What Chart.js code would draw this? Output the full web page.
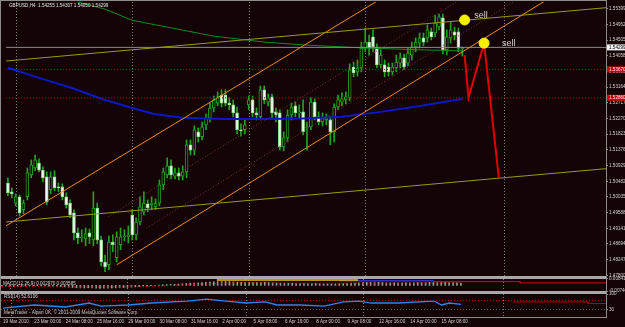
<!DOCTYPE html>
<html>
<head>
<meta charset="utf-8">
<script src="https://cdn.jsdelivr.net/npm/chart.js@4.4.1/dist/chart.umd.min.js"></script>
<style>
  html, body { margin: 0; padding: 0; background: #140405; }
  #wrap { position: relative; width: 625px; height: 327px; overflow: hidden; background: #140405; }
  canvas { position: absolute; left: 0; }
  .sep { position: absolute; left: 0; width: 607px; background: #a8a8a8; }
  #frame { position: absolute; left: 0; top: 0; width: 605px; height: 316px; border: 1px solid #8c8c8c; pointer-events: none; }
</style>
</head>
<body>
<div id="wrap">
  <canvas id="main" width="625" height="286" style="top:-4px"></canvas>
  <canvas id="macd" width="625" height="24" style="top:273px"></canvas>
  <canvas id="rsi" width="625" height="39" style="top:288px"></canvas>
  <div class="sep" style="top:276px;height:3px"></div>
  <div class="sep" style="top:291px;height:3px"></div>
  <div id="frame"></div>
</div>
<script>
// GBPUSD H4, 19 Mar 2010 .. 16 Apr 2010, one entry per bar
const opens = [1.5043,1.5018,1.4986,1.5004,1.4967,1.5004,1.5066,1.5086,1.5100,1.5080,
  1.5061,1.5024,1.5061,1.5032,1.5032,1.5004,1.4986,1.4958,1.4901,1.4887,
  1.4884,1.4901,1.4881,1.4972,1.4881,1.4818,1.4810,1.4875,1.4830,1.4867,
  1.4890,1.4890,1.4952,1.4895,1.4932,1.4961,1.4984,1.4981,1.4975,1.4986,
  1.5038,1.5066,1.5092,1.5063,1.5072,1.5063,1.5075,1.5152,1.5137,1.5189,
  1.5175,1.5209,1.5229,1.5257,1.5271,1.5294,1.5294,1.5271,1.5266,1.5243,
  1.5195,1.5195,1.5266,1.5280,1.5243,1.5232,1.5309,1.5274,1.5289,1.5246,
  1.5243,1.5146,1.5172,1.5237,1.5263,1.5243,1.5246,1.5200,1.5203,1.5274,
  1.5232,1.5217,1.5223,1.5223,1.5189,1.5260,1.5274,1.5280,1.5286,1.5374,
  1.5360,1.5371,1.5428,1.5445,1.5460,1.5431,1.5380,1.5380,1.5374,1.5360,
  1.5371,1.5385,1.5400,1.5385,1.5408,1.5431,1.5442,1.5457,1.5457,1.5474,
  1.5471,1.5488,1.5514,1.5423,1.5457,1.5474,1.5474,1.5426];
const highs = [1.5058,1.5029,1.5012,1.5009,1.4995,1.5086,1.5109,1.5123,1.5112,1.5089,
  1.5075,1.5075,1.5078,1.5043,1.5041,1.5015,1.4995,1.4967,1.4915,1.4910,
  1.4915,1.4912,1.5018,1.4986,1.4892,1.4838,1.4892,1.4895,1.4904,1.4915,
  1.4910,1.4921,1.4967,1.4944,1.5004,1.5018,1.4995,1.5004,1.4998,1.5052,
  1.5086,1.5115,1.5109,1.5086,1.5086,1.5092,1.5166,1.5166,1.5206,1.5200,
  1.5217,1.5240,1.5271,1.5291,1.5303,1.5309,1.5309,1.5286,1.5280,1.5260,
  1.5212,1.5223,1.5291,1.5291,1.5257,1.5320,1.5320,1.5297,1.5297,1.5257,
  1.5252,1.5189,1.5252,1.5271,1.5274,1.5266,1.5280,1.5217,1.5286,1.5283,
  1.5246,1.5243,1.5240,1.5234,1.5269,1.5294,1.5300,1.5303,1.5383,1.5388,
  1.5394,1.5445,1.5485,1.5465,1.5480,1.5440,1.5423,1.5394,1.5385,1.5385,
  1.5408,1.5414,1.5411,1.5428,1.5445,1.5457,1.5471,1.5471,1.5494,1.5485,
  1.5522,1.5525,1.5525,1.5480,1.5502,1.5488,1.5485,1.5431];
const lows = [1.5006,1.5001,1.4978,1.4949,1.4955,1.4995,1.5058,1.5078,1.5075,1.5046,
  1.4981,1.5012,1.5021,1.5018,1.4995,1.4972,1.4944,1.4881,1.4870,1.4875,
  1.4864,1.4870,1.4864,1.4870,1.4807,1.4790,1.4796,1.4847,1.4818,1.4853,
  1.4878,1.4872,1.4881,1.4881,1.4924,1.4952,1.4961,1.4967,1.4967,1.4978,
  1.5024,1.5058,1.5055,1.5055,1.5052,1.5052,1.5058,1.5123,1.5123,1.5160,
  1.5166,1.5195,1.5217,1.5246,1.5263,1.5260,1.5263,1.5252,1.5232,1.5183,
  1.5177,1.5183,1.5252,1.5232,1.5223,1.5223,1.5269,1.5263,1.5229,1.5217,
  1.5137,1.5135,1.5160,1.5223,1.5232,1.5229,1.5180,1.5137,1.5195,1.5223,
  1.5209,1.5206,1.5209,1.5152,1.5160,1.5252,1.5263,1.5269,1.5277,1.5346,
  1.5348,1.5360,1.5417,1.5408,1.5417,1.5371,1.5371,1.5346,1.5348,1.5351,
  1.5360,1.5371,1.5366,1.5377,1.5394,1.5417,1.5428,1.5434,1.5445,1.5451,
  1.5460,1.5480,1.5411,1.5408,1.5442,1.5451,1.5417,1.5405];
const closes = [1.5015,1.5012,1.5004,1.4958,1.4986,1.5072,1.5095,1.5109,1.5080,1.5058,
  1.4989,1.5061,1.5029,1.5029,1.5004,1.4981,1.4952,1.4901,1.4887,1.4890,
  1.4898,1.4890,1.4972,1.4881,1.4818,1.4804,1.4875,1.4867,1.4890,1.4890,
  1.4892,1.4895,1.4895,1.4932,1.4975,1.4986,1.4972,1.4986,1.4986,1.5038,
  1.5075,1.5092,1.5066,1.5072,1.5063,1.5075,1.5152,1.5137,1.5195,1.5175,
  1.5203,1.5229,1.5257,1.5280,1.5289,1.5271,1.5271,1.5266,1.5243,1.5195,
  1.5192,1.5209,1.5280,1.5243,1.5237,1.5309,1.5280,1.5286,1.5243,1.5237,
  1.5146,1.5172,1.5237,1.5260,1.5243,1.5246,1.5189,1.5203,1.5274,1.5232,
  1.5217,1.5229,1.5229,1.5189,1.5260,1.5280,1.5283,1.5289,1.5366,1.5357,
  1.5371,1.5428,1.5445,1.5428,1.5431,1.5380,1.5408,1.5360,1.5360,1.5374,
  1.5388,1.5400,1.5374,1.5414,1.5431,1.5445,1.5457,1.5445,1.5480,1.5460,
  1.5499,1.5517,1.5423,1.5460,1.5480,1.5465,1.5428,1.5430];

// moving averages, read at a few bars
const maBlueBars = [0, 8, 16.5, 25, 32, 37.7, 45, 55.5, 65.6, 75.8, 86, 96, 106, 117];
const maBlueVals = [1.5372,1.5343,1.5314,1.5280,1.5257,1.5240,1.5229,1.5226,1.5226,1.5227,1.5232,1.5246,1.5263,1.5283];
const maGreenBars = [8, 16, 25, 32, 53, 66, 76, 92, 106, 117];
const maGreenVals = [1.5600,1.5565,1.5539,1.5507,1.5462,1.5445,1.5437,1.5428,1.5423,1.5420];

// drawn objects (bar index, price)
const oliveUpperBars = [-0.5, 154], oliveUpperPrices = [1.5391, 1.5543];
const oliveLowerBars = [-0.5, 154], oliveLowerPrices = [1.4932, 1.5084];
const orangeUpperBars = [-0.5, 100], orangeUpperPrices = [1.4921, 1.5595];
const orangeLowerBars = [28, 140], orangeLowerPrices = [1.4810, 1.5574];
const midUpperBars = [25.75, 120], midUpperPrices = [1.4947, 1.5590];
const midLowerBars = [35.7, 135], midLowerPrices = [1.4915, 1.5592];
const targetBars = [117.6, 118.6, 122.6, 126.4], targetPrices = [1.5408, 1.5286, 1.5442, 1.5058];
const sellBars = [117.6, 122.6], sellPrices = [1.5508, 1.5442];
const sellTextBars = [120.1, 127.2], sellTextPrices = [1.5522, 1.5440];
const redLevels = [1.5367, 1.5286];
const bidPrice = 1.54299;
const sepBars = [2, 32, 62, 92, 127.7];

// axes
const priceTicks = [1.47800,1.48247,1.48694,1.49141,1.49588,1.50035,1.50482,1.50929,1.51376,
  1.51823,1.52270,1.52717,1.53164,1.53611,1.54058,1.54505,1.54952,1.55399];
const timeBars = [0, 8, 16, 24, 32, 40, 48, 56, 64, 72, 80, 88, 96, 104, 112];
const timeLabels = ['19 Mar 2010','23 Mar 00:00','24 Mar 08:00','25 Mar 16:00','29 Mar 00:00',
  '30 Mar 08:00','31 Mar 16:00','2 Apr 00:00','5 Apr 08:00','6 Apr 16:00','8 Apr 00:00',
  '9 Apr 08:00','12 Apr 16:00','14 Apr 00:00','15 Apr 08:00'];

// MACD window
const macdHist = [-0.0010,-0.0012,-0.0013,-0.0015,-0.0016,-0.0012,-0.0008,-0.0005,-0.0004,-0.0004,
  -0.0007,-0.0008,-0.0009,-0.0010,-0.0012,-0.0015,-0.0019,-0.0024,-0.0028,-0.0031,
  -0.0033,-0.0034,-0.0032,-0.0033,-0.0036,-0.0039,-0.0038,-0.0037,-0.0035,-0.0033,
  -0.0031,-0.0029,-0.0026,-0.0023,-0.0019,-0.0015,-0.0011,-0.0008,-0.0005,-0.0001,
  0.0004,0.0008,0.0011,0.0013,0.0015,0.0017,0.0022,0.0025,0.0029,0.0031,
  0.0034,0.0037,0.0041,0.0045,0.0048,0.0050,0.0051,0.0051,0.0050,0.0046,
  0.0042,0.0040,0.0041,0.0040,0.0038,0.0040,0.0041,0.0041,0.0039,0.0037,
  0.0031,0.0028,0.0028,0.0029,0.0029,0.0028,0.0025,0.0023,0.0024,0.0024,
  0.0023,0.0022,0.0021,0.0019,0.0020,0.0021,0.0022,0.0023,0.0027,0.0029,
  0.0031,0.0035,0.0038,0.0040,0.0042,0.0041,0.0040,0.0038,0.0036,0.0035,
  0.0034,0.0034,0.0033,0.0033,0.0034,0.0035,0.0036,0.0037,0.0039,0.0040,
  0.0042,0.0044,0.0040,0.0039,0.0039,0.0038,0.0034,0.0030];
const macdSignalBars = [0, 20, 35, 50, 60, 80, 100, 117];
const macdSignalVals = [-0.0012,-0.0022,-0.0020,0.0015,0.0035,0.0028,0.0032,0.0036];
const macdYellowBars = [54.8, 90.8], macdYellowVals = [0.0071, 0.0071];
const macdBlueBars = [86, 110], macdBlueVals = [0.0062, 0.0062];
const macdRedBars = [109.9, 132.1, 132.1, 154], macdRedVals = [0.0049, 0.0049, 0.0032, 0.0032];
const macdTicks = [0.00841, 0, -0.00740];

// RSI window
const rsiBars = [0, 8, 16, 22, 25, 32, 38, 47, 52, 57, 62, 67, 70, 76, 82, 87, 91, 94, 101, 110, 112, 114, 117];
const rsiVals = [36, 50, 41, 59, 45, 50, 59, 68, 77, 68, 59, 64, 50, 50, 45, 64, 68, 59, 59, 68, 50, 59, 52.6];
const rsiRedBars = [130.3, 149.2, 149.4, 154], rsiRedVals = [63.6, 63.6, 56.8, 56.8];
const rsiTicks = [100, 70, 30, 0];

const X_MIN = -0.5, X_MAX = 154;
const BG = '#140405';
const TXT = '#d2d2d2';
const FONT = 'Liberation Sans';
const FS = 4.6;

Chart.defaults.font.family = FONT;
Chart.defaults.font.size = FS;
Chart.defaults.color = TXT;

const pts = (xs, ys) => xs.map((x, i) => ({ x, y: ys[i] }));
const line = (data, color, extra) => Object.assign({
  type: 'line', data, borderColor: color, borderWidth: 1, pointRadius: 0,
  fill: false, tension: 0, order: 5
}, extra || {});
const flat = (v) => [{ x: X_MIN, y: v }, { x: X_MAX, y: v }];

const sepPlugin = {
  id: 'sep',
  beforeDatasetsDraw(chart) {
    const { ctx, chartArea: a, scales: { x } } = chart;
    ctx.save();
    ctx.strokeStyle = '#808080';
    ctx.lineWidth = 1;
    ctx.setLineDash([1, 2]);
    sepBars.forEach(b => {
      const px = Math.round(x.getPixelForValue(b)) + 0.5;
      ctx.beginPath();
      ctx.moveTo(px, a.top);
      ctx.lineTo(px, a.bottom);
      ctx.stroke();
    });
    ctx.restore();
  }
};

const yAxisBase = (extra) => Object.assign({
  position: 'right',
  afterFit: s => { s.width = 19; },
  grid: { drawOnChartArea: false, color: '#8c8c8c', tickLength: 2 },
  border: { display: false },
  ticks: { padding: 1, color: TXT, font: { size: FS } }
}, extra);

const baseOpts = (padBottom) => ({
  responsive: false,
  animation: false,
  events: [],
  layout: { padding: { top: 6, bottom: padBottom, left: 0, right: 0 } },
  plugins: { legend: { display: false }, tooltip: { enabled: false } }
});

// ---------- main price window ----------
const bull = opens.map((o, i) => closes[i] >= o);
const mainText = {
  id: 'mainText',
  afterDraw(chart) {
    const { ctx, chartArea: a, scales: { x, y } } = chart;
    ctx.save();
    ctx.font = FS + 'px ' + FONT;
    ctx.fillStyle = '#e6e6e6';
    ctx.textBaseline = 'middle';
    ctx.fillText('GBPUSD,H4  1.54255 1.54307 1.54050 1.54299', a.left + 3, a.top + 4);
    ctx.font = '9px ' + FONT;
    ctx.fillStyle = '#d8d8d8';
    sellTextBars.forEach((b, i) => {
      ctx.fillText('sell', x.getPixelForValue(b), y.getPixelForValue(sellTextPrices[i]));
    });
    // price boxes on the axis
    const boxes = [[bidPrice, '#f2f2f2', '#000000'], [redLevels[0], '#d00000', '#f0f0f0'], [redLevels[1], '#d00000', '#f0f0f0']];
    ctx.font = FS + 'px ' + FONT;
    boxes.forEach(([p, bg, fg]) => {
      const py = y.getPixelForValue(p);
      ctx.fillStyle = bg;
      ctx.fillRect(a.right + 1, py - 3, 19, 6);
      ctx.fillStyle = fg;
      ctx.fillText(p.toFixed(5), a.right + 3, py);
    });
    ctx.restore();
  }
};

new Chart(document.getElementById('main'), {
  type: 'line',
  data: {
    datasets: [
      { type: 'scatter', data: pts(sellBars, sellPrices), pointRadius: 5, pointBackgroundColor: '#f4f000',
        pointBorderColor: '#f4f000', showLine: false, order: 1 },
      line(pts(targetBars, targetPrices), '#e00000', { borderWidth: 2, order: 2 }),
      line(pts(oliveUpperBars, oliveUpperPrices), '#9a9a18', { order: 3 }),
      line(pts(oliveLowerBars, oliveLowerPrices), '#9a9a18', { order: 3 }),
      line(pts(orangeUpperBars, orangeUpperPrices), '#f08a1c', { order: 3 }),
      line(pts(orangeLowerBars, orangeLowerPrices), '#f08a1c', { order: 3 }),
      line(pts(midUpperBars, midUpperPrices), '#7a3434', { borderDash: [1, 2], order: 3 }),
      line(pts(midLowerBars, midLowerPrices), '#7a3434', { borderDash: [1, 2], order: 3 }),
      line(flat(bidPrice), '#8a8a8a', { order: 4 }),
      line(flat(redLevels[0]), '#a00000', { borderDash: [1, 2], order: 4 }),
      line(flat(redLevels[1]), '#a00000', { borderDash: [1, 2], order: 4 }),
      line(pts(maBlueBars, maBlueVals), '#0a18c8', { borderWidth: 2, order: 5 }),
      line(pts(maGreenBars, maGreenVals), '#118a22', { order: 5 }),
      { type: 'bar', data: opens.map((o, i) => ({ x: i, y: [o, closes[i]] })),
        backgroundColor: bull.map(b => b ? BG : '#eefcee'),
        borderColor: bull.map(b => b ? '#22a322' : '#8ed88e'),
        borderWidth: 1, borderSkipped: false, barThickness: 3, minBarLength: 1, grouped: false, order: 10 },
      { type: 'bar', data: opens.map((o, i) => ({ x: i, y: [lows[i], highs[i]] })),
        backgroundColor: '#22a322', barThickness: 1, grouped: false, order: 11 }
    ]
  },
  options: Object.assign(baseOpts(6), {
    scales: {
      x: { type: 'linear', min: X_MIN, max: X_MAX, offset: false, display: false },
      y: yAxisBase({
        min: 1.4778, max: 1.55593,
        afterBuildTicks: s => { s.ticks = priceTicks.map(v => ({ value: v })); },
        ticks: { padding: 1, color: TXT, font: { size: FS }, callback: v => Number(v).toFixed(5) }
      })
    }
  }),
  plugins: [sepPlugin, mainText]
});

// ---------- MACD window ----------
const macdText = {
  id: 'macdText',
  afterDraw(chart) {
    const { ctx, chartArea: a } = chart;
    ctx.save();
    ctx.font = FS + 'px ' + FONT;
    ctx.fillStyle = '#d6d6d6';
    ctx.textBaseline = 'middle';
    ctx.fillText('MACD(12,26,9) 0.002970 0.003585', a.left + 3, a.top + 4.5);
    ctx.restore();
  }
};
new Chart(document.getElementById('macd'), {
  type: 'line',
  data: {
    datasets: [
      line(pts(macdRedBars, macdRedVals), '#e00000', { order: 1 }),
      line(pts(macdYellowBars, macdYellowVals), '#e8c800', { borderWidth: 1.5, order: 1 }),
      line(pts(macdBlueBars, macdBlueVals), '#3030c0', { borderWidth: 1.5, order: 1 }),
      line(pts(macdSignalBars, macdSignalVals), '#c00000', { borderDash: [1, 2], order: 2 }),
      { type: 'bar', data: macdHist.map((v, i) => ({ x: i, y: [0, v] })), backgroundColor: '#9a9a9a',
        barThickness: 1, grouped: false, order: 5 }
    ]
  },
  options: Object.assign(baseOpts(6), {
    scales: {
      x: { type: 'linear', min: X_MIN, max: X_MAX, offset: false, display: false },
      y: yAxisBase({
        min: -0.0074, max: 0.0084,
        afterBuildTicks: s => { s.ticks = macdTicks.map(v => ({ value: v })); },
        ticks: { padding: 1, color: TXT, font: { size: FS }, callback: v => Number(v).toFixed(5) }
      })
    }
  }),
  plugins: [sepPlugin, macdText]
});

// ---------- RSI window + time axis ----------
const rsiText = {
  id: 'rsiText',
  afterDraw(chart) {
    const { ctx, chartArea: a } = chart;
    ctx.save();
    ctx.font = FS + 'px ' + FONT;
    ctx.textBaseline = 'middle';
    ctx.fillStyle = '#d6d6d6';
    ctx.fillText('RSI(14) 52.6106', a.left + 3, a.top + 2.5);
    ctx.fillStyle = '#c8c8c8';
    ctx.fillText('MetaTrader - Alpari UK, \u00a9 2001-2009 MetaQuotes Software Corp.', a.left + 3, a.top + 19);
    ctx.restore();
  }
};
new Chart(document.getElementById('rsi'), {
  type: 'line',
  data: {
    datasets: [
      line(pts(rsiBars, rsiVals), '#2a86ee', { borderWidth: 1.3, order: 1 }),
      line(pts(rsiRedBars, rsiRedVals), '#b00000', { order: 2 }),
      line(flat(70), '#b01010', { borderDash: [1, 2], order: 3 }),
      line(flat(30), '#506a86', { borderDash: [1, 2], order: 3 })
    ]
  },
  options: Object.assign(baseOpts(0), {
    scales: {
      x: {
        type: 'linear', min: X_MIN, max: X_MAX, offset: false, position: 'bottom',
        afterFit: s => { s.height = 11; },
        afterBuildTicks: s => { s.ticks = timeBars.map(v => ({ value: v })); },
        grid: { display: false, drawTicks: false, tickLength: 0 },
        border: { display: false },
        ticks: { align: 'start', maxRotation: 0, autoSkip: false, padding: 3, color: TXT,
          font: { size: FS }, callback: (v, i) => timeLabels[i] }
      },
      y: yAxisBase({
        min: 0, max: 100,
        afterBuildTicks: s => { s.ticks = rsiTicks.map(v => ({ value: v })); },
        ticks: { padding: 1, color: TXT, font: { size: FS } }
      })
    }
  }),
  plugins: [sepPlugin, rsiText]
});
</script>
</body>
</html>
